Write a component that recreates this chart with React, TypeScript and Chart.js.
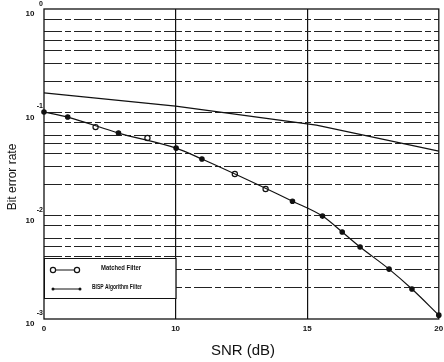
import React, { useEffect, useRef } from "react";
import { Chart, registerables } from "chart.js";

Chart.register(...registerables);

// ---- data ----
const bispSnr = [5, 5.9, 7.83, 10.02, 11.0, 14.44, 15.58, 16.33, 17.01, 18.11, 18.98, 20];
const bispBer = [0.1007, 0.09, 0.063, 0.045, 0.0353, 0.0138, 0.0099, 0.00694, 0.00497, 0.00304, 0.00195, 0.00109];
const matchedSnr = [6.96, 8.93, 12.25, 13.42];
const matchedBer = [0.072, 0.0564, 0.0253, 0.0181];
const upperSnr = [5, 10, 15.35, 20];
const upperBer = [0.154, 0.115, 0.0753, 0.0422];

const xTickValues = [5, 10, 15, 20];
const xTickLabels = ["0", "10", "15", "20"];
const xGridValues = [10, 15];
const yDecades = [1, 0.1, 0.01, 0.001];
const yExponents = ["0", "-1", "-2", "-3"];
const yMinorMultipliers = [2, 3, 4, 5, 6, 8];
const legendLabels = ["Matched Filter", "BISP Algorithm Filter"];
const xTitle = "SNR (dB)";
const yTitle = "Bit error rate";

const INK = "#111";

function buildYTicks(): number[] {
  const out: number[] = [];
  for (const d of [0.001, 0.01, 0.1]) {
    out.push(d);
    for (const m of yMinorMultipliers) out.push(+(d * m).toPrecision(3));
  }
  out.push(1);
  return out;
}

const decorPlugin = {
  id: "decor",
  afterDraw(chart: any) {
    const { ctx, chartArea, scales } = chart;
    const xs = scales.x;
    const ys = scales.y;
    ctx.save();

    // legend box
    const lx0 = chartArea.left;
    const lx1 = xs.getPixelForValue(10);
    const ly0 = 258;
    const ly1 = 298;
    ctx.fillStyle = "#fff";
    ctx.fillRect(lx0, ly0, lx1 - lx0, ly1 - ly0);
    ctx.strokeStyle = INK;
    ctx.lineWidth = 1;
    ctx.strokeRect(lx0 + 0.5, ly0 + 0.5, lx1 - lx0, ly1 - ly0);

    // legend row 1: o---o
    ctx.beginPath();
    ctx.moveTo(53, 270);
    ctx.lineTo(77, 270);
    ctx.stroke();
    for (const cx of [53, 77]) {
      ctx.beginPath();
      ctx.arc(cx, 270, 2.6, 0, Math.PI * 2);
      ctx.fillStyle = "#fff";
      ctx.fill();
      ctx.lineWidth = 1.2;
      ctx.stroke();
    }
    // legend row 2: .----.
    ctx.lineWidth = 1;
    ctx.beginPath();
    ctx.moveTo(53, 289);
    ctx.lineTo(80, 289);
    ctx.stroke();
    ctx.fillStyle = INK;
    for (const cx of [53, 80]) {
      ctx.beginPath();
      ctx.arc(cx, 289, 1.5, 0, Math.PI * 2);
      ctx.fill();
    }
    ctx.font = "bold 7px 'Liberation Sans', Arial, sans-serif";
    ctx.textBaseline = "middle";
    ctx.textAlign = "left";
    ctx.fillText(legendLabels[0], 101, 268, 40);
    ctx.fillText(legendLabels[1], 92, 287, 50);

    // frame
    ctx.strokeStyle = INK;
    ctx.lineWidth = 1.3;
    ctx.strokeRect(chartArea.left, chartArea.top, chartArea.right - chartArea.left, chartArea.bottom - chartArea.top);

    // y labels
    ctx.fillStyle = INK;
    yDecades.forEach((v, i) => {
      const py = ys.getPixelForValue(v);
      ctx.font = "bold 8px 'Liberation Sans', Arial, sans-serif";
      ctx.textAlign = "center";
      ctx.textBaseline = "middle";
      ctx.fillText("10", 30, py + 5);
      ctx.font = "bold 7px 'Liberation Sans', Arial, sans-serif";
      ctx.textAlign = "right";
      ctx.fillText(yExponents[i], 43, Math.max(py - 6, 4));
    });

    // x labels
    ctx.font = "bold 8px 'Liberation Sans', Arial, sans-serif";
    ctx.textAlign = "center";
    ctx.textBaseline = "middle";
    xTickValues.forEach((v, i) => {
      const px = xs.getPixelForValue(v);
      ctx.fillText(xTickLabels[i], px, 329);
    });

    // titles
    ctx.font = "15px 'Liberation Sans', Arial, sans-serif";
    ctx.fillText(xTitle, 243, 351);
    ctx.save();
    ctx.translate(13, 177);
    ctx.rotate(-Math.PI / 2);
    ctx.font = "12px 'Liberation Sans', Arial, sans-serif";
    ctx.fillText(yTitle, 0, 0);
    ctx.restore();

    ctx.restore();
  },
};

const bgPlugin = {
  id: "bg",
  beforeDraw(chart: any) {
    const { ctx, width, height } = chart;
    ctx.save();
    ctx.fillStyle = "#fff";
    ctx.fillRect(0, 0, width, height);
    ctx.restore();
  },
};

export default function App() {
  const ref = useRef<HTMLCanvasElement | null>(null);

  useEffect(() => {
    document.body.style.margin = "0";
    if (!ref.current) return;
    const yTicks = buildYTicks();
    const chart = new Chart(ref.current, {
      type: "scatter",
      data: {
        datasets: [
          {
            label: "upper",
            data: upperSnr.map((x, i) => ({ x, y: upperBer[i] })),
            showLine: true,
            pointRadius: 0,
            borderColor: INK,
            borderWidth: 1.2,
            clip: 4,
          },
          {
            label: legendLabels[1],
            data: bispSnr.map((x, i) => ({ x, y: bispBer[i] })),
            showLine: true,
            cubicInterpolationMode: "monotone",
            pointRadius: 2.2,
            pointBackgroundColor: INK,
            pointBorderColor: INK,
            borderColor: INK,
            borderWidth: 1.2,
            clip: 4,
          },
          {
            label: legendLabels[0],
            data: matchedSnr.map((x, i) => ({ x, y: matchedBer[i] })),
            showLine: false,
            pointRadius: 2.6,
            pointBackgroundColor: "#fff",
            pointBorderColor: INK,
            pointBorderWidth: 1.2,
            clip: 4,
          },
        ],
      } as any,
      options: {
        animation: false,
        responsive: false,
        layout: { padding: { left: 44, top: 9, right: 0, bottom: 43 } },
        plugins: { legend: { display: false }, tooltip: { enabled: false } },
        scales: {
          x: {
            type: "linear",
            min: 5,
            max: 20,
            afterBuildTicks: (s: any) => {
              s.ticks = xTickValues.map((v) => ({ value: v }));
            },
            afterFit: (s: any) => {
              s.height = 0;
              s.paddingLeft = 0;
              s.paddingRight = 0;
            },
            ticks: { display: false },
            border: { display: false },
            grid: {
              drawTicks: false,
              color: (c: any) => (xGridValues.includes(c.tick?.value) ? INK : "rgba(0,0,0,0)"),
              lineWidth: 1.2,
            },
          },
          y: {
            type: "logarithmic",
            min: 0.001,
            max: 1,
            afterBuildTicks: (s: any) => {
              s.ticks = yTicks.map((v) => ({ value: v }));
            },
            afterFit: (s: any) => {
              s.width = 0;
            },
            ticks: { display: false },
            border: { display: false, dash: [18, 3, 6, 3] },
            grid: {
              drawTicks: false,
              color: (c: any) => {
                const v = c.tick?.value;
                return v === 1 || v === 0.001 ? "rgba(0,0,0,0)" : "#222";
              },
              lineWidth: 1,
            },
          },
        },
      } as any,
      plugins: [bgPlugin, decorPlugin],
    });
    return () => chart.destroy();
  }, []);

  return (
    <div style={{ width: 444, height: 362 }}>
      <canvas ref={ref} width={444} height={362} style={{ display: "block" }} />
    </div>
  );
}
